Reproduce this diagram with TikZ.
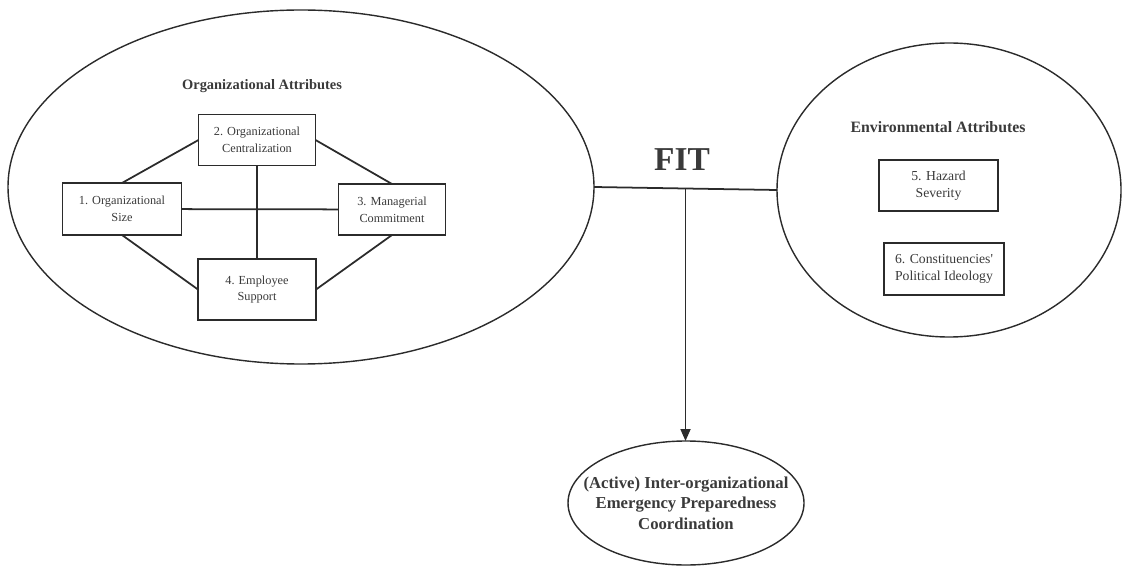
\documentclass[tikz,border=0pt]{standalone}
\usepackage{fontspec}
\setmainfont{Liberation Serif}
\usetikzlibrary{shapes.geometric, arrows.meta, positioning, calc}
\definecolor{LineGray}{HTML}{2B2B2B}
\definecolor{TextGray}{HTML}{3A3A3A}

\begin{document}
\begin{tikzpicture}[
  group/.style={ellipse, draw=LineGray, line width=0.8pt, inner sep=0pt, outer sep=0pt},
  attr/.style={rectangle, draw=LineGray, line width=1pt, align=center, text=TextGray,
    font=\fontsize{7}{9.6}\selectfont, inner sep=0pt, outer sep=0pt},
  envattr/.style={attr, font=\fontsize{7.8}{9.6}\selectfont},
  grouptitle/.style={font=\fontsize{8.2}{10}\selectfont\bfseries, text=TextGray},
  line/.style={line width=1pt, color=LineGray}
]
\useasboundingbox (0,0) rectangle (22.44,11.34);

% organizational side
\node[group, minimum width=11.72cm, minimum height=7.08cm] (org) at (6.02,7.6) {};
\node[grouptitle] (orgtitle) at (5.24,9.62) {Organizational Attributes};
\node[attr, minimum width=2.34cm, minimum height=1.02cm] (cent) at (5.14,8.54) {2. Organizational\\Centralization};
\node[attr, minimum width=2.38cm, minimum height=1.04cm] (size) at (2.44,7.16) {1. Organizational\\Size};
\node[attr, minimum width=2.14cm, minimum height=1.02cm] (mgmt) at (7.84,7.15) {3. Managerial\\Commitment};
\node[attr, minimum width=2.36cm, minimum height=1.22cm] (empl) at (5.14,5.55) {4. Employee\\Support};

\draw[line] (cent.west) -- (size.north);
\draw[line] (cent.east) -- (mgmt.north);
\draw[line] (size.south) -- (empl.west);
\draw[line] (mgmt.south) -- (empl.east);
\draw[line] (cent) -- (empl);
\draw[line] (size) -- (mgmt);

% environmental side
\node[group, minimum width=6.88cm, minimum height=5.88cm] (env) at (18.98,7.54) {};
\node[grouptitle, font=\fontsize{9}{11}\selectfont\bfseries] (envtitle) at (18.76,8.8) {Environmental Attributes};
\node[envattr, minimum width=2.38cm, minimum height=1.02cm] (haz) at (18.77,7.63) {5. Hazard\\Severity};
\node[envattr, minimum width=2.4cm, minimum height=1.04cm] (ideo) at (18.88,5.96) {6. Constituencies\textquotesingle\\Political Ideology};

% fit and outcome
\node[font=\fontsize{19}{22}\selectfont\bfseries, text=TextGray] (fit) at (13.64,8.14) {FIT};
\node[group, minimum width=4.72cm, minimum height=2.48cm, inner xsep=-0.5cm, align=center,
  text=TextGray, font=\fontsize{9.5}{11.6}\selectfont\bfseries] (coord) at (13.72,1.28)
  {(Active) Inter-organizational\\Emergency Preparedness\\Coordination};

\coordinate (join) at ($(org.east)!0.5!(env.west)$);
\draw[line] (org.east) -- (env.west);
\draw[line, -{Triangle[length=2.4mm, width=2mm]}] (join) -- (join |- coord.north);
\end{tikzpicture}
\end{document}
